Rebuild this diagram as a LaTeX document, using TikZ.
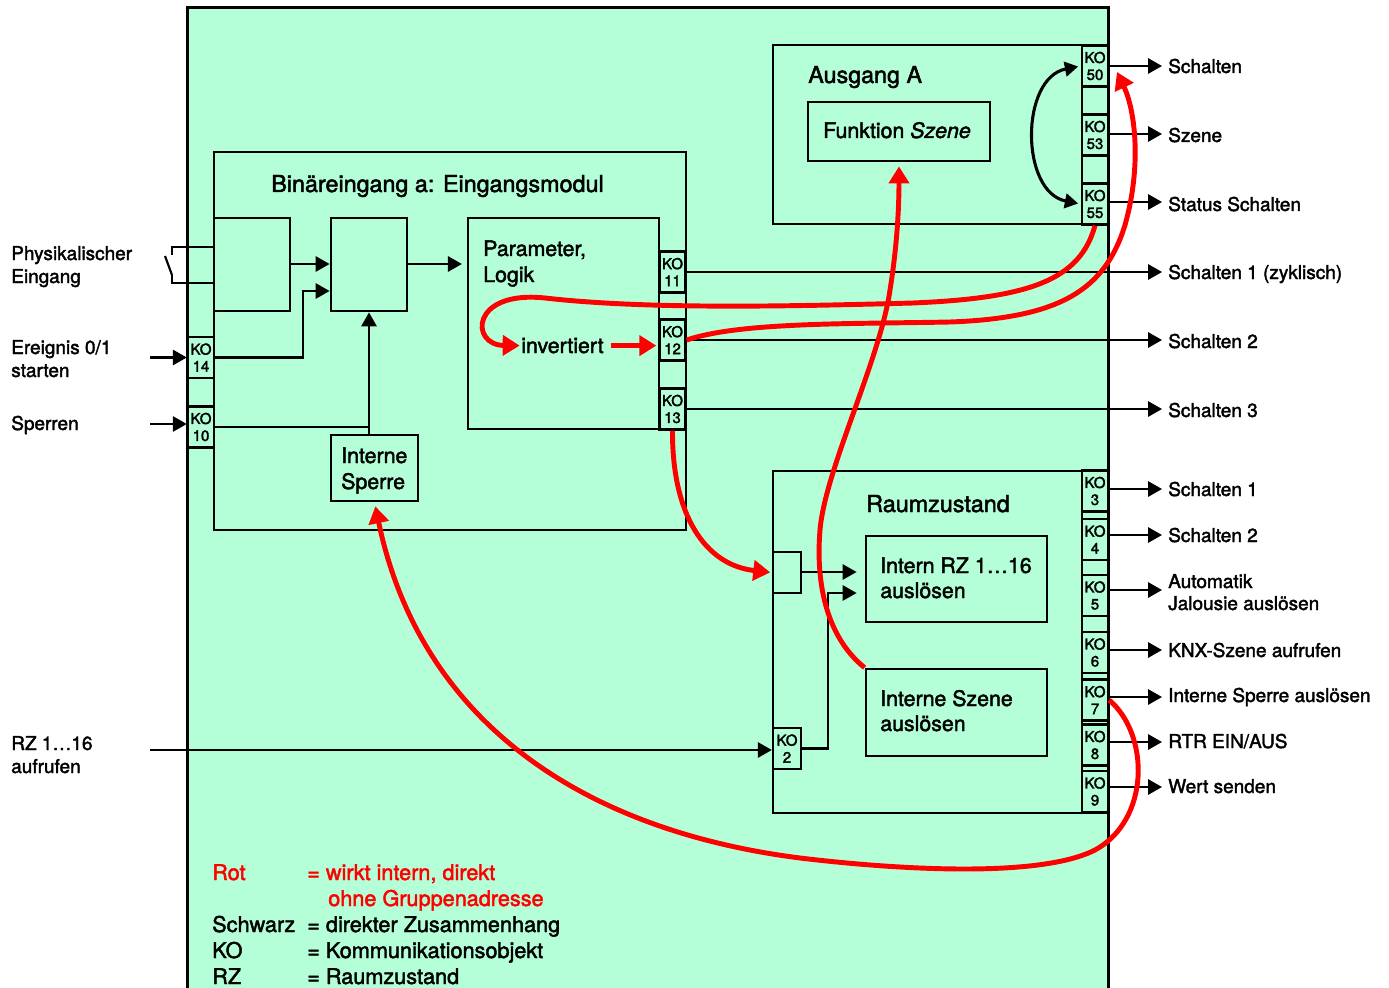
\documentclass[tikz,border=0pt]{standalone}
\usepackage{fontspec}
\setmainfont{TeX Gyre Heros}[FakeBold=2]
\usetikzlibrary{arrows.meta,fit,calc}
\definecolor{mint}{RGB}{180,255,216}
\definecolor{rd}{RGB}{255,0,0}
\begin{document}
\begin{tikzpicture}[x=0.75pt,y=-0.75pt,
  >={Triangle[length=10.5pt,width=11.5pt]},
  box/.style={draw, line width=2.1pt, inner sep=0pt},
  kob/.style={draw, line width=1.8pt, inner sep=0pt, minimum width=19.5pt, minimum height=30.5pt,
              align=center, font=\fontsize{11.25pt}{12.75pt}\selectfont},
  conn/.style={line width=1.6pt},
  blkc/.style={line width=2.3pt, {Triangle[length=10pt,width=11pt]}-{Triangle[length=10pt,width=11pt]}, shorten <=2pt, shorten >=2pt},
  redl/.style={draw=rd, line width=3.7pt, -{Triangle[length=12.75pt,width=15pt]}},
  lab/.style={inner sep=0pt, anchor=base west, font=\fontsize{14.25pt}{17.25pt}\selectfont},
  intxt/.style={inner sep=0pt, anchor=base west, font=\fontsize{16pt}{19pt}\selectfont},
  ttl/.style={inner sep=0pt, anchor=base west, font=\fontsize{17.5pt}{20pt}\selectfont},
  leg/.style={inner sep=0pt, anchor=base west, font=\fontsize{16.25pt}{19pt}\selectfont},
]
\useasboundingbox (0,0) rectangle (1389,988);
% main module
\node[fit={(188,8)(1108,995)}, inner sep=0pt, fill=mint] (main) {};
\draw[box] (main.south west) -- (main.north west) -- (main.north east) -- (main.south east);

% ---------------- Binaereingang ----------------
\node[box, fit={(214,152)(686,530)}] (bin) {};
\node[ttl] (tbin) at (271,192) {Binäreingang a: Eingangsmodul};
\node[box, fit={(214,218)(290,311)}] (b1) {};
\node[box, fit={(331,218)(407,311)}] (b2) {};
\node[box, fit={(468,218)(659,429)}] (par) {};
\node[intxt] (tpar1) at (483,256) {Parameter,};
\node[intxt] (tpar2) at (483,282) {Logik};
\node[intxt] (inv) at (521,353) {invertiert};
\node[box, fit={(331,435)(418,501)}] (sperre) {};
\node[intxt] (tsp1) at (341,463) {Interne};
\node[intxt] (tsp2) at (341,489) {Sperre};

\node[kob] (ko14) at (201,357.5) {KO\\14};
\node[kob] (ko10) at (201,427) {KO\\10};
\node[kob] (ko11) at (672.5,272) {KO\\11};
\node[kob] (ko12) at (672.5,340) {KO\\12};
\node[kob] (ko13) at (672.5,409) {KO\\13};

% physical switch
\draw[conn] (b1.west |- 0,247) -- (172,247) -- (172,255);
\draw[conn] (165,256) -- (172,275);
\draw[conn] (172,275) -- (172,283) -- (b1.west |- 0,283);

% internal connections
\draw[conn,->] (b1.east |- 0,264) -- (b2.west |- 0,264);
\draw[conn,->] (ko14.east) -| (303,291) -- (b2.west |- 0,291);
\draw[conn,->] (b2.east |- 0,264) -- ([xshift=-3.5pt]par.west |- 0,264);
\draw[conn] (ko10.east) -- (ko10.east -| b2.south);
\draw[conn,->] (sperre.north -| b2.south) -- (b2.south);

% ---------------- Ausgang A ----------------
\node[box, fit={(773,45)(1082,224)}] (aus) {};
\node[box, fit={(1082,45)(1108,224)}] (auscol) {};
\node[ttl] (taus) at (808,83) {Ausgang A};
\node[box, fit={(808,102)(990,161)}] (fsz) {};
\node[intxt] (tfsz) at (823,138) {Funktion \textit{Szene}};
\node[kob] (ko50) at (1095,66) {KO\\50};
\node[kob] (ko53) at (1095,135) {KO\\53};
\node[kob] (ko55) at (1095,204) {KO\\55};
\draw[blkc] (ko50.west) .. controls (1020,78) and (1020,192) .. (ko55.west);

% ---------------- Raumzustand ----------------
\node[box, fit={(773,471)(1082,813)}] (raum) {};
\node[box, fit={(1082,471)(1108,813)}] (raumcol) {};
\node[ttl] (traum) at (866,512) {Raumzustand};
\node[box, fit={(773,552)(801,593)}] (sb) {};
\node[box, fit={(866,536)(1047,622)}] (irz) {};
\node[intxt] (tirz1) at (880,573) {Intern RZ 1…16};
\node[intxt] (tirz2) at (880,598) {auslösen};
\node[box, fit={(866,669)(1047,756)}] (isz) {};
\node[intxt] (tisz1) at (880,706) {Interne Szene};
\node[intxt] (tisz2) at (880,731) {auslösen};
\node[kob, minimum width=21pt] (ko2) at (787,748.5) {KO\\2};
\node[kob] (ko3) at (1095,491) {KO\\3};
\node[kob] (ko4) at (1095,539.5) {KO\\4};
\node[kob] (ko5) at (1095,595.5) {KO\\5};
\node[kob] (ko6) at (1095,652.5) {KO\\6};
\node[kob] (ko7) at (1095,700) {KO\\7};
\node[kob] (ko8) at (1095,745) {KO\\8};
\node[kob] (ko9) at (1095,791.5) {KO\\9};

\draw[conn,->] (sb.east |- 0,572) -- ([xshift=-6pt]irz.west |- 0,572);
\draw[conn,->] (ko2.east) -| (828,593) -- ([xshift=-6pt]irz.west |- 0,593);

% ---------------- left labels and inputs ----------------
\node[lab] (lphys1) at (11,260) {Physikalischer};
\node[lab] (lphys2) at (11,283) {Eingang};
\node[lab] (lev1) at (11,354) {Ereignis 0/1};
\node[lab] (lev2) at (11,377) {starten};
\node[lab] (lsp) at (11,430) {Sperren};
\node[lab] (lrz1) at (11,750) {RZ 1…16};
\node[lab] (lrz2) at (11,773) {aufrufen};
\coordinate (i14) at (150,357.5);
\coordinate (i10) at (150,424);
\coordinate (i2) at (150,750);
\draw[conn,->] (i14) -- (ko14.west);
\draw[conn,->] (i10) -- (i10 -| ko10.west);
\draw[conn,->] (i2) -- (i2 -| ko2.west);

% ---------------- right outputs ----------------
\foreach \k/\y in {50/66, 53/134, 55/202, 11/272, 12/340, 13/409, 3/489, 4/535, 5/590, 6/650, 7/697, 8/742, 9/787}{
  \coordinate (o\k) at (1162,\y);
  \draw[conn,->] (ko\k.east |- o\k) -- (o\k);
}
\node[lab] (r50) at (1168,73) {Schalten};
\node[lab] (r53) at (1168,142) {Szene};
\node[lab] (r55) at (1168,211) {Status Schalten};
\node[lab] (r11) at (1168,279) {Schalten 1 (zyklisch)};
\node[lab] (r12) at (1168,348) {Schalten 2};
\node[lab] (r13) at (1168,417) {Schalten 3};
\node[lab] (r3) at (1168,496) {Schalten 1};
\node[lab] (r4) at (1168,542) {Schalten 2};
\node[lab] (r5a) at (1168,588) {Automatik};
\node[lab] (r5b) at (1168,610) {Jalousie auslösen};
\node[lab] (r6) at (1168,657) {KNX-Szene aufrufen};
\node[lab] (r7) at (1168,702) {Interne Sperre auslösen};
\node[lab] (r8) at (1168,748) {RTR EIN/AUS};
\node[lab] (r9) at (1168,793) {Wert senden};

% ---------------- legend ----------------
\node[leg, text=rd] (g1) at (212,880) {Rot};
\node[leg, text=rd] (g1e) at (307,880) {= wirkt intern, direkt};
\node[leg, text=rd] (g1f) at (328,906) {ohne Gruppenadresse};
\node[leg] (g2) at (212,932) {Schwarz};
\node[leg] (g2e) at (307,932) {= direkter Zusammenhang};
\node[leg] (g3) at (212,958) {KO};
\node[leg] (g3e) at (307,958) {= Kommunikationsobjekt};
\node[leg] (g4) at (212,984) {RZ};
\node[leg] (g4e) at (307,984) {= Raumzustand};

% ---------------- red connections ----------------
\coordinate (t50) at (1117,72);
\draw[redl, shorten >=1pt] (ko55.south) .. controls (1080,280) and (1030,298) .. (913,303)
   .. controls (800,306) and (650,310) .. (545,298)
   .. controls (470,290) and (470,345) .. (inv.west);
\draw[redl, shorten <=5.25pt, shorten >=1.5pt] (inv.east) -- (inv.east -| ko12.west);
\draw[redl] (ko12.east) .. controls (740,322) and (850,324) .. (950,322)
   .. controls (1060,318) and (1105,290) .. (1125,225)
   .. controls (1142,165) and (1135,110) .. (t50);
\draw[redl, shorten >=3pt] (isz.north west) .. controls (830,640) and (815,590) .. (820,530)
   .. controls (825,470) and (880,360) .. (890,290)
   .. controls (898,240) and (899,200) .. (fsz.south);
\draw[redl, shorten >=1pt] (ko13.south) .. controls (672,515) and (705,565) .. (sb.west);
\draw[redl, shorten >=3pt] (ko7.east) .. controls (1150,735) and (1150,820) .. (1095,850)
   .. controls (1040,878) and (900,870) .. (800,858)
   .. controls (580,830) and (420,720) .. (sperre.south);
\end{tikzpicture}
\end{document}
